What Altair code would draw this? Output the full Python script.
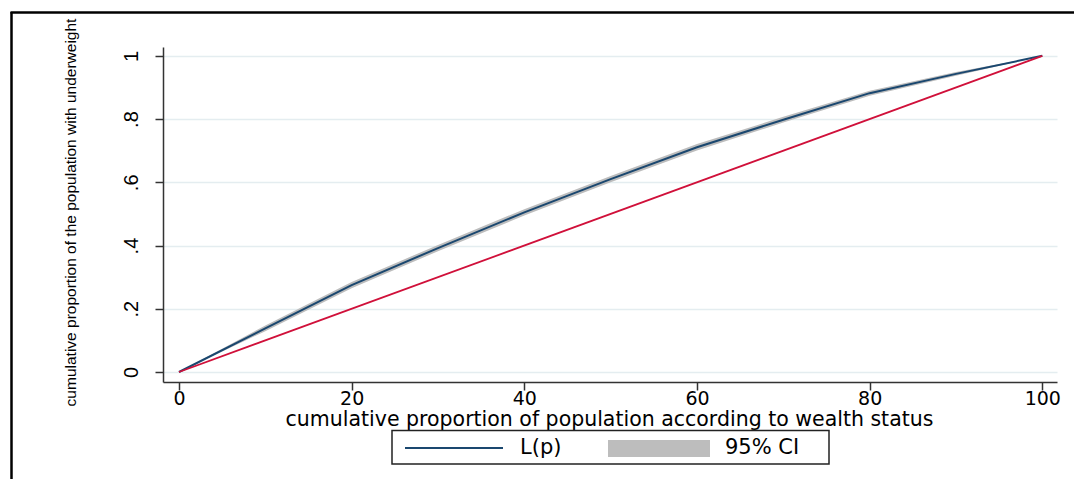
import altair as alt
import pandas as pd

# cumulative proportion of population (wealth rank)
p = [0, 10, 20, 30, 40, 50, 60, 70, 80, 90, 100]
# concentration curve L(p)
Lp = [0, 0.138, 0.275, 0.392, 0.505, 0.610, 0.711, 0.798, 0.882, 0.943, 1.0]
ci_lo = [0, 0.129, 0.265, 0.382, 0.495, 0.600, 0.701, 0.789, 0.874, 0.937, 1.0]
ci_hi = [0, 0.147, 0.285, 0.402, 0.515, 0.620, 0.721, 0.807, 0.890, 0.949, 1.0]
# line of equality
eq_x = [0, 100]
eq_y = [0, 1]

x_ticks = [0, 20, 40, 60, 80, 100]
y_ticks = [0, 0.2, 0.4, 0.6, 0.8, 1.0]
x_title = "cumulative proportion of population according to wealth status"
y_title = "cumulative proportion of the population with underweight"
legend_labels = ["L(p)", "95% CI"]

NAVY = "#1a476f"
RED = "#d0103a"
GRAY = "#bdbdbd"
WIDE = "DejaVu Sans"
NARROW = "Liberation Sans"

df = pd.DataFrame({"p": p, "Lp": Lp, "lo": ci_lo, "hi": ci_hi})
df_eq = pd.DataFrame({"p": eq_x, "v": eq_y})

xscale = alt.Scale(domain=[-1.85, 101.7], nice=False, zero=False)
yscale = alt.Scale(domain=[-0.0316, 1.028], nice=False, zero=False)

xaxis = alt.Axis(
    values=x_ticks, grid=False, title=x_title, labelFont=WIDE, labelFontSize=19,
    labelColor="#000", labelPadding=-1, tickSize=8, tickColor="#333", tickWidth=1.5,
    domainColor="#333", domainWidth=1.5, titleFont=WIDE, titleFontSize=20.5,
    titleFontWeight="normal", titleColor="#000", titleX=446, titleY=27.5,
    titleAlign="center", titleBaseline="top", labelFlush=False,
)
yaxis = alt.Axis(
    values=y_ticks, grid=True, gridColor="#e4edf0", gridWidth=1.5,
    title=y_title, labelFont=NARROW, labelFontSize=20, labelColor="#000",
    labelAngle=270, labelAlign="center", labelBaseline="bottom", labelPadding=14,
    labelExpr="datum.value == 0 ? '0' : (datum.value == 1 ? '1' : replace(format(datum.value, '.1f'), '0.', '.'))",
    tickSize=8, tickColor="#333", tickWidth=1.5, domainColor="#333", domainWidth=1.5,
    titleFont=NARROW, titleFontSize=15.5, titleFontWeight="normal", titleColor="#000",
    titleAngle=270, titleX=-93, titleY=165, titleAlign="center", titleBaseline="middle",
    labelFlush=False,
)

band = alt.Chart(df).mark_area(color=GRAY, opacity=1).encode(
    x=alt.X("p:Q", scale=xscale, axis=xaxis),
    y=alt.Y("lo:Q", scale=yscale, axis=yaxis),
    y2="hi:Q",
)
curve = alt.Chart(df).mark_line(color=NAVY, strokeWidth=2).encode(
    x=alt.X("p:Q", scale=xscale), y=alt.Y("Lp:Q", scale=yscale)
)
equality = alt.Chart(df_eq).mark_line(color=RED, strokeWidth=1.8).encode(
    x=alt.X("p:Q", scale=xscale), y=alt.Y("v:Q", scale=yscale)
)

one = alt.Data(values=[{"k": 1}])
# legend box
leg_box = alt.Chart(one).mark_rect(fill="white", stroke="#222", strokeWidth=1.5).encode(
    x=alt.value(229), x2=alt.value(666), y=alt.value(383.5), y2=alt.value(417)
)
leg_line = alt.Chart(one).mark_rule(color=NAVY, strokeWidth=2).encode(
    x=alt.value(242), x2=alt.value(340), y=alt.value(401)
)
leg_rect = alt.Chart(one).mark_rect(color=GRAY).encode(
    x=alt.value(445), x2=alt.value(547), y=alt.value(393), y2=alt.value(410)
)
leg_t1 = alt.Chart(one).mark_text(
    text=legend_labels[0], font=WIDE, fontSize=21, align="left", baseline="middle", color="#000"
).encode(x=alt.value(357), y=alt.value(401))
leg_t2 = alt.Chart(one).mark_text(
    text=legend_labels[1], font=WIDE, fontSize=21, align="left", baseline="middle", color="#000"
).encode(x=alt.value(562), y=alt.value(401))

# outer frame (left and top edges)
frame_left = alt.Chart(one).mark_rule(color="#000", strokeWidth=2.5).encode(
    x=alt.value(-151.5), y=alt.value(-35), y2=alt.value(500)
)
frame_top = alt.Chart(one).mark_rule(color="#000", strokeWidth=2.5).encode(
    x=alt.value(-152.5), x2=alt.value(1000), y=alt.value(-34.5)
)

chart = alt.layer(
    band, curve, equality, leg_box, leg_line, leg_rect, leg_t1, leg_t2, frame_left, frame_top
).properties(
    width=894, height=335,
    autosize=alt.AutoSizeParams(type="none"),
    padding={"left": 155, "top": 39, "right": 17, "bottom": 97},
    background="white",
).configure_view(stroke=None)

chart.save("out.html", embed_options={"renderer": "svg", "actions": False})
